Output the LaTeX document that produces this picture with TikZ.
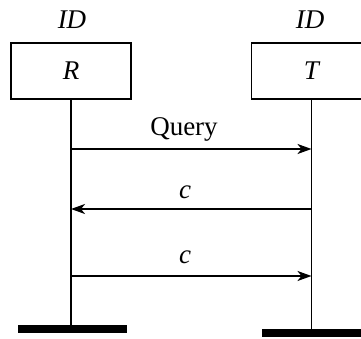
\documentclass[tikz,border=0pt]{standalone}
\usepackage{fontspec}
\setmainfont{Liberation Serif}
\usetikzlibrary{arrows.meta}
\newcommand\diagfont{\fontsize{27}{32}\selectfont}
\begin{document}
\begin{tikzpicture}[x=1pt,y=-1pt,
  entity/.style={draw,line width=1.8pt,minimum width=120pt,minimum height=56pt,
    inner sep=0pt,font=\diagfont\itshape},
  tag/.style={inner sep=0pt,anchor=base,font=\diagfont\itshape},
  lifeline/.style={line width=1.8pt},
  msg/.style={line width=1.8pt,-{Stealth[length=14pt,width=10pt,inset=4pt]}},
  msglabel/.style={inner sep=0pt,anchor=base,font=\diagfont},
  bar/.style={fill=black,inner sep=0pt,minimum height=7.5pt}]
\useasboundingbox (0,0) rectangle (361,339);
\clip (0,0) rectangle (361,339);

% participants
\node[entity] (R) at (71,71) {R};
\node[entity] (T) at (311.5,71) {T};
\node[tag] (idR) at (72,29) {ID};
\node[tag] (idT) at (310,29) {ID};

% lifeline ends and base bars
\coordinate (Rend) at (71,325);
\coordinate (Tend) at (311.5,329);
\node[bar,minimum width=109pt,anchor=north] (Rbar) at (72.5,325) {};
\node[bar,minimum width=110pt,anchor=north west] (Tbar) at (262,329) {};
\draw[lifeline] (R.south) -- (Rend);
\draw[lifeline] (T.south) -- (Tend);

% message anchor points on the lifelines
\coordinate (r1) at (71,149);   \coordinate (t1) at (311.5,149);
\coordinate (r2) at (71,209);   \coordinate (t2) at (311.5,209);
\coordinate (r3) at (71,276);   \coordinate (t3) at (311.5,276);

% messages
\draw[msg] (r1) -- (t1);
\draw[msg] (t2) -- (r2);
\draw[msg] (r3) -- (t3);
\node[msglabel] (q) at (184,136) {Query};
\node[msglabel,font=\diagfont\itshape] (c1) at (185,198) {c};
\node[msglabel,font=\diagfont\itshape] (c2) at (185,263) {c};
\end{tikzpicture}
\end{document}
